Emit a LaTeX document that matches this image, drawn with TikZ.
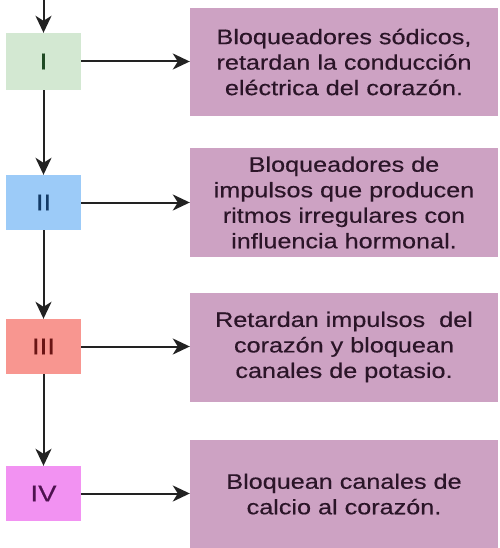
\documentclass[tikz,border=0pt]{standalone}
\usepackage{fontspec}
\setmainfont{Liberation Sans}[FakeStretch=1.2,FakeBold=0.4]
\usetikzlibrary{arrows.meta}
\definecolor{G1}{HTML}{D3E8D2}
\definecolor{G2}{HTML}{1F4A24}
\definecolor{B1}{HTML}{9CCBF8}
\definecolor{B2}{HTML}{123A66}
\definecolor{R1}{HTML}{F89690}
\definecolor{R2}{HTML}{6A1414}
\definecolor{M1}{HTML}{F292F2}
\definecolor{M2}{HTML}{4E1250}
\definecolor{P1}{HTML}{CDA2C3}
\definecolor{P2}{HTML}{2B1528}
\definecolor{K1}{HTML}{222222}

\begin{document}
\begin{tikzpicture}[x=1pt,y=-1pt,
        num/.style={minimum width=75pt,minimum height=55pt,inner sep=0pt,font=\fontsize{23}{25}\selectfont},
        info/.style={fill=P1,text=P2,minimum width=308pt,minimum height=108pt,inner sep=0pt,align=center,font=\fontsize{21}{25.5}\selectfont},
        conn/.style={draw=K1,line width=2pt,-{Stealth[length=17pt,width=16pt,inset=5pt]}}]
        \useasboundingbox (0,0) rectangle (499,548);
        \coordinate (top) at (43.5,0);
        % left column
        \node [num,fill=G1,text=G2,minimum height=57pt] (I) at (43.5,61.5) {I};
        \node [num,fill=B1,text=B2] (II) at (43.5,202.5) {II};
        \node [num,fill=R1,text=R2] (III) at (43.5,346.5) {III};
        \node [num,fill=M1,text=M2] (IV) at (43.5,493.5) {IV};
        % right column
        \node [info] (dI) at (344,62) {Bloqueadores sódicos,\\retardan la conducción\\eléctrica del corazón.};
        \node [info,minimum height=109pt] (dII) at (344,202.5) {Bloqueadores de\\impulsos que producen\\ritmos irregulares con\\influencia hormonal.};
        \node [info,minimum height=109pt] (dIII) at (344,347) {Retardan impulsos\ \ del\\corazón y bloquean\\canales de potasio.};
        \node [info] (dIV) at (344,494) {Bloquean canales de\\calcio al corazón.};
        % arrows
        \draw [conn] (top)--(I);
        \draw [conn] (I)--(II);
        \draw [conn] (II)--(III);
        \draw [conn] (III)--(IV);
        \draw [conn] (I.east)--(I.east -| dI.west);
        \draw [conn] (II.east)--(II.east -| dII.west);
        \draw [conn] (III.east)--(III.east -| dIII.west);
        \draw [conn] (IV.east)--(IV.east -| dIV.west);
\end{tikzpicture}
\end{document}
